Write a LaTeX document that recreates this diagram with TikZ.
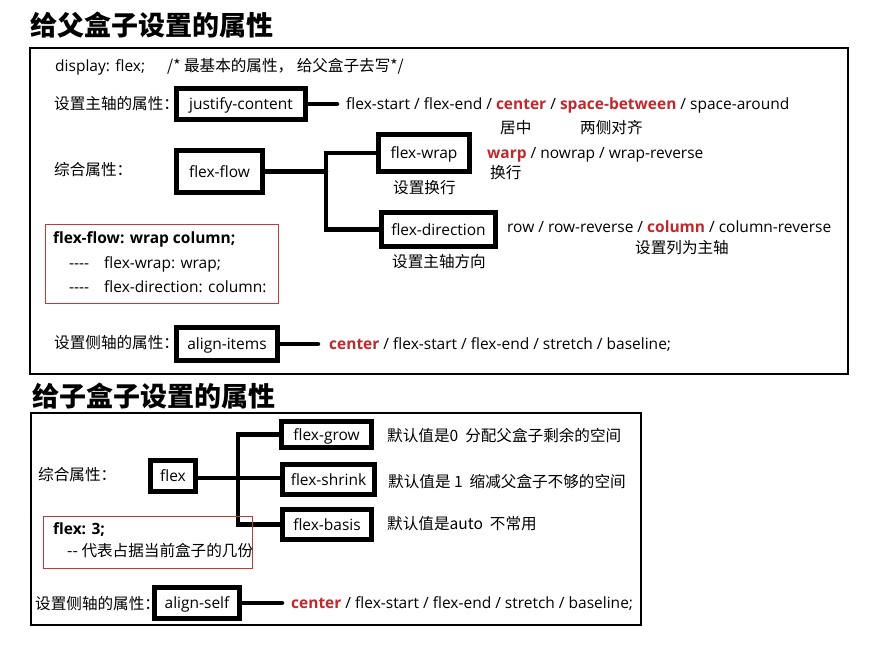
\documentclass[tikz,border=0pt]{standalone}
\usepackage{fontspec}
\setmainfont{Open Sans}
\newfontfamily\cjk{Noto Sans CJK SC}
\definecolor{hl}{HTML}{C0282E}
\definecolor{rb}{HTML}{C0393B}
\newcommand{\hlt}[1]{\textcolor{hl}{\bfseries #1}}
\tikzset{
  lat/.style={font=\fontsize{15.5}{18}\selectfont, anchor=mid west, inner sep=0pt, yshift=-2.5pt},
  latb/.style={font=\fontsize{15.5}{18}\selectfont\bfseries, anchor=mid west, inner sep=0pt, yshift=-2.5pt},
  zh/.style={font=\cjk\fontsize{15.6}{18}\selectfont, anchor=mid west, inner sep=0pt, yshift=-2.5pt},
  ttl/.style={font=\cjk\bfseries\fontsize{27}{30}\selectfont, anchor=west, inner sep=0pt},
  keybox/.style={draw, line width=5pt, inner sep=0pt, text height=14pt, text depth=3pt, font=\fontsize{15.5}{18}\selectfont},
  conn/.style={line width=4.5pt, line cap=round, line join=miter},
  frame/.style={line width=1.3pt},
  redframe/.style={draw=rb, line width=1pt}
}
\begin{document}
\begin{tikzpicture}[x=1pt,y=-1pt]
\useasboundingbox[fill=white] (0,0) rectangle (882,669);

% ---------- part 1 ----------
\node[ttl] (t1) at (30,25) {给父盒子设置的属性};
\draw[frame] (30,48) rectangle (848,374);

\node[lat] (disp) at (55,66) {display: flex;};
\node[zh] (cmt) at (167,66) {/* 最基本的属性， 给父盒子去写*/};

\node[zh] (l1) at (54,104) {设置主轴的属性：};
\node[keybox, minimum width=129pt, minimum height=31pt] (jc) at (241,104) {justify-content};
\coordinate (jce) at (337,104);
\draw[conn] (jc.east) -- (jce);
\node[lat] (jcv) at (346,104) {flex-start / flex-end / \hlt{center} / \hlt{space-between} / space-around};
\node[zh] (c1) at (500,128) {居中};
\node[zh] (c2) at (580,128) {两侧对齐};

\node[zh] (l2) at (54,170) {综合属性：};
\node[keybox, minimum width=86pt, minimum height=42pt] (ff) at (219.5,171.5) {flex-flow};
\node[keybox, minimum width=91pt, minimum height=37pt] (fw) at (424,153) {flex-wrap};
\node[keybox, minimum width=114pt, minimum height=34pt] (fd) at (438.5,229.5) {flex-direction};
\coordinate (fj) at (326,171.5);
\draw[conn] (ff.east) -- (fj);
\draw[conn] (fw.west) -| (fj) |- (fd.west);

\node[lat] (fwv) at (487,153) {\hlt{warp} / nowrap / wrap-reverse};
\node[zh] (fwz) at (490,173) {换行};
\node[zh] (fwl) at (393,188) {设置换行};
\node[zh] (fdl) at (392,262) {设置主轴方向};
\node[lat] (fdv) at (507,227) {row / row-reverse / \hlt{column} / column-reverse};
\node[zh] (fdz) at (635,248) {设置列为主轴};

\draw[redframe] (45,224) rectangle (278,303);
\node[latb] (r1a) at (53,238) {flex-flow: wrap column;};
\node[lat] (r1b) at (69,263) {\makebox[35pt][l]{-{}-{}-{}-}flex-wrap: wrap;};
\node[lat] (r1c) at (69,287) {\makebox[35pt][l]{-{}-{}-{}-}flex-direction: column:};

\node[zh] (l3) at (54,343) {设置侧轴的属性：};
\node[keybox, minimum width=101pt, minimum height=33pt] (ai) at (227,344) {align-items};
\coordinate (aie) at (318,344);
\draw[conn] (ai.east) -- (aie);
\node[lat] (aiv) at (329,344) {\hlt{center} / flex-start / flex-end / stretch / baseline;};

% ---------- part 2 ----------
\node[ttl] (t2) at (32,396) {给子盒子设置的属性};
\draw[frame] (31,413) rectangle (641,625);

\node[zh] (l4) at (38,475) {综合属性：};
\node[keybox, minimum width=45pt, minimum height=31pt] (fx) at (173,476) {flex};
\node[keybox, minimum width=90pt, minimum height=26pt] (fg) at (326.5,434.5) {flex-grow};
\node[keybox, minimum width=92pt, minimum height=30pt] (fs) at (328.5,479.5) {flex-shrink};
\node[keybox, minimum width=89pt, minimum height=30pt] (fb) at (327,524.5) {flex-basis};
\coordinate (bj) at (238,478);
\draw[conn] (fx.east |- bj) -- (bj) -- (bj -| fs.west);
\draw[conn] (fg.west) -| (bj) |- (fb.west);

\node[zh] (fgv) at (387,436) {默认值是0\ \ 分配父盒子剩余的空间};
\node[zh] (fsv) at (388,482) {默认值是 1\ \ 缩减父盒子不够的空间};
\node[zh] (fbv) at (387,524) {默认值是auto\ \ 不常用};

\draw[redframe] (43,516) rectangle (252,568);
\node[latb] (r2a) at (53,529) {flex: 3;};
\node[zh] (r2b) at (67,551) {-{}- 代表占据当前盒子的几份};

\node[zh] (l5) at (35,604) {设置侧轴的属性：};
\node[keybox, minimum width=85pt, minimum height=31pt] (as) at (197,603) {align-self};
\coordinate (ase) at (282,603);
\draw[conn] (as.east) -- (ase);
\node[lat] (asv) at (291,603) {\hlt{center} / flex-start / flex-end / stretch / baseline;};
\end{tikzpicture}
\end{document}
